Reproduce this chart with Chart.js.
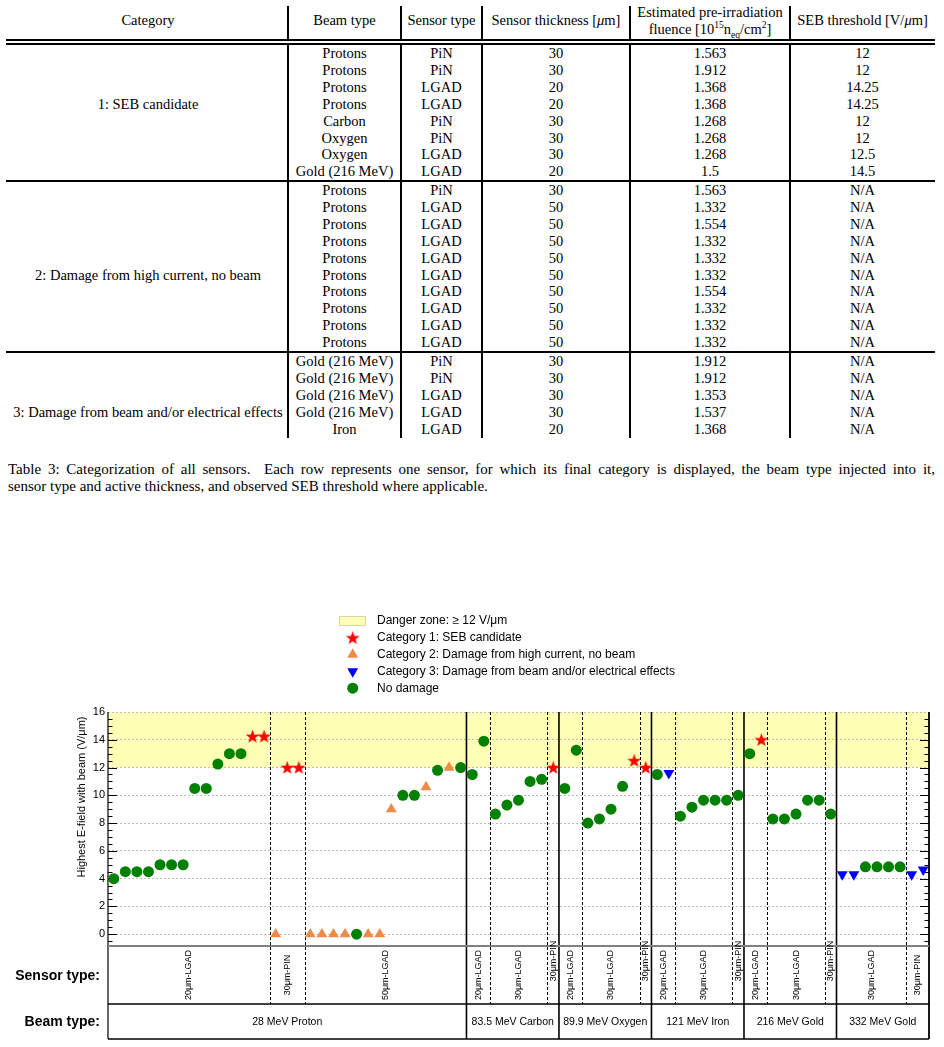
<!DOCTYPE html>
<html><head><meta charset="utf-8">
<script src="https://cdn.jsdelivr.net/npm/chart.js@4.4.1/dist/chart.umd.min.js"></script>
<style>
html,body{margin:0;padding:0;background:#fff;}
body{width:944px;height:1047px;position:relative;overflow:hidden;font-family:"Liberation Serif","Times New Roman",serif;font-size:14.5px;color:#000;}
.t{position:absolute;white-space:nowrap;text-align:center;line-height:16px;}
.vl{position:absolute;width:1.3px;background:#000;top:6px;height:432px;}
.hl{position:absolute;left:6px;width:929px;background:#000;}
.dbl{position:absolute;left:6px;width:929px;top:39px;height:2px;border-bottom:2px solid #000;border-top:2px solid #000;background:#fff;box-sizing:content-box;}
.cap{position:absolute;left:8px;width:927px;line-height:17px;white-space:nowrap;font-size:15px;}
#chart{position:absolute;left:0;top:590px;}
</style></head><body>
<div id="tbl"></div>
<div class="cap" style="top:461px;white-space:normal;text-align:justify;text-align-last:justify;height:18px;overflow:hidden">Table 3: Categorization of all sensors.&nbsp; Each row represents one sensor, for which its final category is displayed, the beam type injected into it,</div>
<div class="cap" style="top:478px">sensor type and active thickness, and observed SEB threshold where applicable.</div>
<canvas id="chart" width="944" height="457"></canvas>
<script>
// ---- table data ----
const colX = [8, 288, 401, 482, 630, 790, 935];
const groupNames = ['1: SEB candidate', '2: Damage from high current, no beam', '3: Damage from beam and/or electrical effects'];
const groupLabelRow = [3, 5, 3];
const groupTop = [53, 190, 361];
const rowGroup = [0,0,0,0,0,0,0,0, 1,1,1,1,1,1,1,1,1,1, 2,2,2,2,2];
const rowBeam = ['Protons','Protons','Protons','Protons','Carbon','Oxygen','Oxygen','Gold (216 MeV)',
  'Protons','Protons','Protons','Protons','Protons','Protons','Protons','Protons','Protons','Protons',
  'Gold (216 MeV)','Gold (216 MeV)','Gold (216 MeV)','Gold (216 MeV)','Iron'];
const rowSensor = ['PiN','PiN','LGAD','LGAD','PiN','PiN','LGAD','LGAD',
  'PiN','LGAD','LGAD','LGAD','LGAD','LGAD','LGAD','LGAD','LGAD','LGAD',
  'PiN','PiN','LGAD','LGAD','LGAD'];
const rowThick = [30,30,20,20,30,30,30,20, 30,50,50,50,50,50,50,50,50,50, 30,30,30,30,20];
const rowFluence = ['1.563','1.912','1.368','1.368','1.268','1.268','1.268','1.5',
  '1.563','1.332','1.554','1.332','1.332','1.332','1.554','1.332','1.332','1.332',
  '1.912','1.912','1.353','1.537','1.368'];
const rowSeb = ['12','12','14.25','14.25','12','12','12.5','14.5',
  'N/A','N/A','N/A','N/A','N/A','N/A','N/A','N/A','N/A','N/A',
  'N/A','N/A','N/A','N/A','N/A'];

// ---- chart data ----
const efield = [
  4, 4.5, 4.5, 4.5, 5, 5, 5, 10.5, 10.5, 12.25, 13, 13, 14.25, 14.25,
  0, 12, 12,
  0, 0, 0, 0, 0, 0, 0, 9, 10, 10, 10.6, 11.8, 12, 12,
  11.5, 13.9, 8.65, 9.3, 9.65, 11, 11.15, 12,
  10.5, 13.25, 8, 8.3, 9, 10.65, 12.5, 12,
  11.5, 11.6, 8.5, 9.15, 9.65, 9.65, 9.65, 10,
  13, 14, 8.3, 8.3, 8.65, 9.65, 9.65, 8.65,
  4.3, 4.3, 4.85, 4.85, 4.85, 4.85, 4.3, 4.65
];
const category = [
  0,0,0,0,0,0,0,0,0,0,0,0,1,1,
  2,1,1,
  2,2,2,2,0,2,2,2,0,0,2,0,2,0,
  0,0,0,0,0,0,0,1,
  0,0,0,0,0,0,1,1,
  0,3,0,0,0,0,0,0,
  0,1,0,0,0,0,0,0,
  3,3,0,0,0,0,3,3
];
const catNames = ['No damage', 'Category 1: SEB candidate', 'Category 2: Damage from high current, no beam', 'Category 3: Damage from beam and/or electrical effects'];
const catColors = ['#008000', '#ff0000', '#ee8a48', '#0000ff'];
const sensorLabels = ['20μm-LGAD','30μm-PIN','50μm-LGAD','20μm-LGAD','30μm-LGAD','30μm-PIN','20μm-LGAD','30μm-LGAD','30μm-PIN',
  '20μm-LGAD','30μm-LGAD','30μm-PIN','20μm-LGAD','30μm-LGAD','30μm-PIN','30μm-LGAD','30μm-PIN'];
const sensorCounts = [14,3,14,2,5,1,2,5,1,2,5,1,2,5,1,6,2];
const beamLabels = ['28 MeV Proton','83.5 MeV Carbon','89.9 MeV Oxygen','121 MeV Iron','216 MeV Gold','332 MeV Gold'];
const beamCounts = [31,8,8,8,8,8];
const yTicks = [0, 2, 4, 6, 8, 10, 12, 14, 16];
const dangerMin = 12, yMin = -0.85, yMax = 16;

// build table
(function(){
  const tb = document.getElementById('tbl');
  let h = '';
  const cx = i => (colX[i] + colX[i+1]) / 2;
  const txt = (x, y, s) => `<div class="t" style="left:${x-150}px;width:300px;top:${y-8}px">${s}</div>`;
  h += txt(cx(0), 20, 'Category');
  h += txt(cx(1), 20, 'Beam type');
  h += txt(cx(2), 20, 'Sensor type');
  h += txt(cx(3), 20, 'Sensor thickness [<i>μ</i>m]');
  h += txt(cx(4), 12, 'Estimated pre-irradiation');
  h += txt(cx(4), 29, 'fluence [10<sup style="font-size:9.5px;line-height:0">15</sup>n<sub style="font-size:9.5px;line-height:0">eq</sub>/cm<sup style="font-size:9.5px;line-height:0">2</sup>]');
  h += txt(cx(5), 20, 'SEB threshold [V/<i>μ</i>m]');
  let gi = {};
  rowGroup.forEach((g, r) => {
    gi[g] = (gi[g] || 0);
    const y = groupTop[g] + gi[g] * 16.9;
    if (gi[g] === groupLabelRow[g]) h += txt(cx(0), y, groupNames[g]);
    gi[g]++;
    h += txt(cx(1), y, rowBeam[r]);
    h += txt(cx(2), y, rowSensor[r]);
    h += txt(cx(3), y, rowThick[r]);
    h += txt(cx(4), y, rowFluence[r]);
    h += txt(cx(5), y, rowSeb[r]);
  });
  for (let i = 1; i < colX.length - 1; i++) h += `<div class="vl" style="left:${colX[i]-0.6}px"></div>`;
  h += '<div class="dbl"></div>';
  h += '<div class="hl" style="top:180px;height:2.4px"></div>';
  h += '<div class="hl" style="top:351px;height:2.4px"></div>';
  tb.innerHTML = h;
})();

function starCanvas(color){
  const c = document.createElement('canvas');
  c.width = 15; c.height = 15;
  const g = c.getContext('2d');
  g.fillStyle = color;
  g.beginPath();
  for (let i = 0; i < 10; i++) {
    const r = i % 2 ? 2.9 : 7.2;
    const a = -Math.PI/2 + i * Math.PI/5;
    g.lineTo(7.5 + r*Math.cos(a), 8 + r*Math.sin(a));
  }
  g.closePath(); g.fill();
  return c;
}
const STAR = starCanvas('#ff0000');
const catStyle = [
  {pointStyle:'circle', radius:5.5, rotation:0},
  {pointStyle:STAR, radius:7, rotation:0},
  {pointStyle:'triangle', radius:6.3, rotation:0},
  {pointStyle:'triangle', radius:6.3, rotation:180},
];

const datasets = [1,2,3,0].map(k => ({
  label: catNames[k],
  data: efield.map((v,i)=>({x:i,y:v})).filter((p,i)=>category[i]===k),
  backgroundColor: catColors[k], borderColor: catColors[k], borderWidth: 0,
  pointStyle: catStyle[k].pointStyle, pointRadius: catStyle[k].radius, pointRotation: catStyle[k].rotation,
}));

const TOP = 590;
const SENS_B = 1004 - TOP, BEAM_B = 1039 - TOP;
const SANS = '"Liberation Sans", Arial, Helvetica, sans-serif';

function bounds(counts){
  const out = []; let c = 0;
  counts.forEach(n => { out.push([c - 0.5, c + n - 0.5]); c += n; });
  return out;
}

const overlay = {
  id: 'overlay',
  beforeDraw(c){
    const {ctx, chartArea:a, scales:{y}} = c;
    ctx.save();
    ctx.fillStyle = '#ffffb6';
    const y1 = y.getPixelForValue(yMax), y2 = y.getPixelForValue(dangerMin);
    ctx.fillRect(a.left, y1, a.right - a.left, y2 - y1);
    ctx.restore();
  },
  beforeDatasetsDraw(c){
    const {ctx, chartArea:a, scales:{x,y}} = c;
    ctx.save();
    // separators
    const beamEdges = bounds(beamCounts).map(b=>b[1]).slice(0,-1);
    bounds(sensorCounts).map(b=>b[1]).slice(0,-1).forEach(v => {
      if (beamEdges.includes(v)) return;
      const px = Math.round(x.getPixelForValue(v)) + 0.5;
      ctx.strokeStyle = '#000'; ctx.lineWidth = 1; ctx.setLineDash([3,2]);
      ctx.beginPath(); ctx.moveTo(px, a.top); ctx.lineTo(px, SENS_B); ctx.stroke();
    });
    ctx.setLineDash([]);
    beamEdges.forEach(v => {
      const px = x.getPixelForValue(v);
      ctx.strokeStyle = '#000'; ctx.lineWidth = 1.6;
      ctx.beginPath(); ctx.moveTo(px, a.top); ctx.lineTo(px, BEAM_B); ctx.stroke();
    });
    // frame
    ctx.lineWidth = 1.2; ctx.strokeStyle = '#000';
    ctx.beginPath(); ctx.moveTo(a.left, a.top); ctx.lineTo(a.left, BEAM_B); ctx.stroke();
    ctx.lineWidth = 1.8;
    ctx.beginPath(); ctx.moveTo(a.right, a.top); ctx.lineTo(a.right, BEAM_B); ctx.stroke();
    // ticks
    ctx.lineWidth = 1;
    for (let v = 0; v <= 32; v++) {
      const val = -0.5 + v * 0.5;
      if (val < yMin || val > yMax) continue;
      const py = Math.round(y.getPixelForValue(val)) + 0.5;
      const len = (val % 2 === 0) ? 9 : 4.5;
      ctx.beginPath();
      ctx.moveTo(a.left, py); ctx.lineTo(a.left + len, py);
      ctx.moveTo(a.right, py); ctx.lineTo(a.right - len, py);
      ctx.stroke();
    }
    // bottom panel borders
    ctx.strokeStyle = '#808080'; ctx.lineWidth = 2.2;
    ctx.beginPath(); ctx.moveTo(a.left, a.bottom); ctx.lineTo(a.right, a.bottom); ctx.stroke();
    ctx.strokeStyle = '#000'; ctx.lineWidth = 1.6;
    ctx.beginPath(); ctx.moveTo(a.left, SENS_B); ctx.lineTo(a.right, SENS_B); ctx.stroke();
    ctx.beginPath(); ctx.moveTo(a.left, BEAM_B); ctx.lineTo(a.right, BEAM_B); ctx.stroke();
    ctx.restore();
  },
  afterDraw(c){
    const {ctx, chartArea:a, scales:{x,y}} = c;
    ctx.save();
    ctx.fillStyle = '#000';
    // sensor labels
    ctx.font = '9px ' + SANS;
    ctx.textAlign = 'center'; ctx.textBaseline = 'middle';
    bounds(sensorCounts).forEach((b, i) => {
      const px = x.getPixelForValue((b[0] + b[1]) / 2);
      const cy = sensorCounts[i] === 1 ? (961 - TOP) : (975 - TOP);
      ctx.save(); ctx.translate(px, cy); ctx.rotate(-Math.PI/2);
      ctx.fillText(sensorLabels[i], 0, 0); ctx.restore();
    });
    // beam labels
    ctx.font = '10.5px ' + SANS;
    bounds(beamCounts).forEach((b, i) => {
      ctx.fillText(beamLabels[i], x.getPixelForValue((b[0] + b[1]) / 2), 1022 - TOP);
    });
    ctx.font = 'bold 14px ' + SANS; ctx.textAlign = 'right';
    ctx.fillText('Sensor type:', 100, 976 - TOP);
    ctx.fillText('Beam type:', 100, 1022 - TOP);
    // y title
    ctx.font = '11px ' + SANS; ctx.textAlign = 'center';
    ctx.save(); ctx.translate(82, 797 - TOP); ctx.rotate(-Math.PI/2);
    ctx.fillText('Highest E-field with beam (V/μm)', 0, 0); ctx.restore();
    // legend
    ctx.font = '12px ' + SANS; ctx.textAlign = 'left';
    const ly = k => 621 - TOP + k * 16.8;
    ctx.fillStyle = '#ffffb6'; ctx.strokeStyle = '#d6d6a8'; ctx.lineWidth = 1;
    ctx.fillRect(339.5, ly(0) - 4.5, 26, 9); ctx.strokeRect(339.5, ly(0) - 4.5, 26, 9);
    ctx.fillStyle = '#000';
    ctx.fillText('Danger zone: ≥ 12 V/μm', 377, ly(0));
    [1,2,3,0].forEach((k, j) => {
      const yy = ly(j + 1);
      ctx.fillStyle = catColors[k];
      Chart.helpers.drawPoint(ctx, {pointStyle:catStyle[k].pointStyle, rotation:catStyle[k].rotation, radius:catStyle[k].radius, borderWidth:0}, 352.7, yy);
      ctx.fillStyle = '#000';
      ctx.fillText(catNames[k], 377, yy);
    });
    ctx.restore();
  }
};

new Chart(document.getElementById('chart'), {
  type: 'scatter',
  data: { datasets },
  plugins: [overlay],
  options: {
    responsive: false, animation: false, devicePixelRatio: 1, events: [],
    layout: { padding: { top: 712 - TOP, bottom: 1047 - 946, left: 0, right: 15 } },
    plugins: { legend: { display: false }, tooltip: { enabled: false } },
    scales: {
      x: { type: 'linear', min: -0.5, max: 70.5, display: false },
      y: {
        min: yMin, max: yMax,
        afterFit(s){ s.width = 108; },
        afterBuildTicks(s){ s.ticks = yTicks.map(v => ({ value: v })); },
        ticks: { color: '#000', padding: 3, font: { family: SANS, size: 11 } },
        grid: { color: '#bdbdbd', lineWidth: 1, drawTicks: false },
        border: { display: false, dash: [2, 2] }
      }
    }
  }
});
</script>
</body></html>
